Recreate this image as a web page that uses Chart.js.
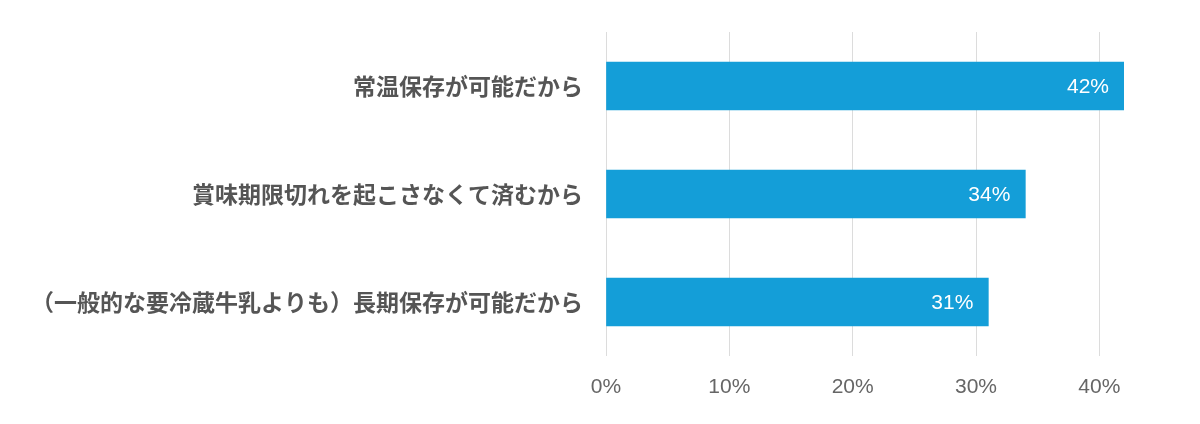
<!DOCTYPE html>
<html>
<head>
<meta charset="utf-8">
<script src="https://cdn.jsdelivr.net/npm/chart.js@4"></script>
<style>
  html, body { margin: 0; padding: 0; background: #fff; }
  #wrap { width: 1200px; height: 424px; }
</style>
</head>
<body>
<div id="wrap"><canvas id="chart" width="1200" height="424"></canvas></div>
<script>
const reasons = [
  "常温保存が可能だから",
  "賞味期限切れを起こさなくて済むから",
  "（一般的な要冷蔵牛乳よりも）長期保存が可能だから",
];
const shares = [42, 34, 31];
const tickValues = [0, 10, 20, 30, 40];

const barLabels = {
  id: "barLabels",
  afterDatasetsDraw(chart) {
    const ctx = chart.ctx;
    const meta = chart.getDatasetMeta(0);
    ctx.save();
    ctx.fillStyle = "#ffffff";
    ctx.font = "21px 'Liberation Sans', Arial, sans-serif";
    ctx.textAlign = "right";
    ctx.textBaseline = "middle";
    meta.data.forEach((bar, i) => {
      ctx.fillText(shares[i] + "%", bar.x - 15, bar.y + 1);
    });
    ctx.restore();
  },
};

new Chart(document.getElementById("chart"), {
  type: "bar",
  data: {
    labels: reasons,
    datasets: [
      {
        data: shares,
        backgroundColor: "#149ed8",
        borderWidth: 0,
        barThickness: 48,
      },
    ],
  },
  options: {
    indexAxis: "y",
    responsive: false,
    animation: false,
    layout: { padding: { top: 32, right: 76, left: 0, bottom: 0 } },
    plugins: {
      legend: { display: false },
      tooltip: { enabled: false },
    },
    scales: {
      x: {
        min: 0,
        max: 42,
        afterBuildTicks(scale) {
          scale.ticks = tickValues.map((v) => ({ value: v }));
        },
        afterFit(scale) {
          scale.height = 68;
        },
        grid: { color: "#dcdcdc", lineWidth: 1, drawTicks: false },
        border: { display: false },
        ticks: {
          padding: 19,
          color: "#666666",
          font: { family: "'Liberation Sans', Arial, sans-serif", size: 21 },
          callback: (v) => v + "%",
        },
      },
      y: {
        afterFit(scale) {
          scale.width = 606;
        },
        grid: { display: false },
        border: { display: false },
        ticks: {
          padding: 15,
          color: "#555555",
          font: { family: "'Noto Sans CJK JP', sans-serif", size: 23, weight: "bold" },
        },
      },
    },
  },
  plugins: [barLabels],
});
</script>
</body>
</html>
